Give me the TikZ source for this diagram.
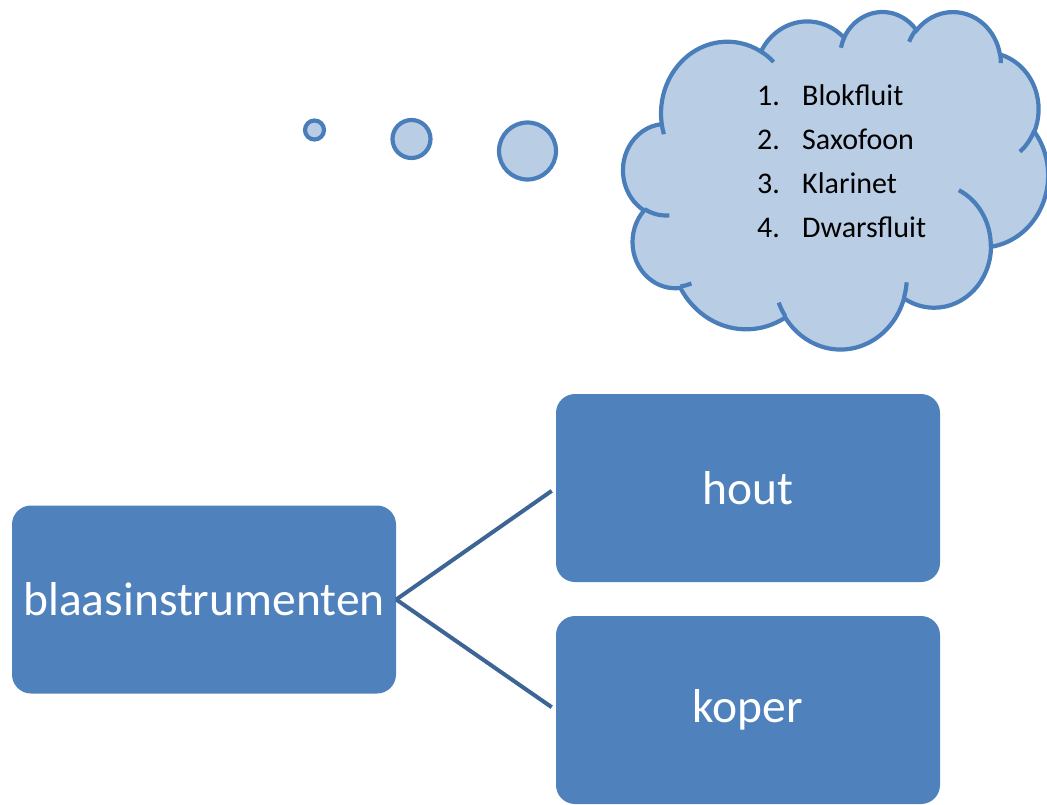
\documentclass[tikz,border=0pt]{standalone}
\usepackage{fontspec}
\setmainfont{Carlito}
\definecolor{boxblue}{RGB}{79,129,189}
\definecolor{cloudfill}{RGB}{185,205,229}
\definecolor{cloudline}{RGB}{74,126,187}
\definecolor{linkblue}{RGB}{60,100,148}
\tikzstyle{boxnode}=[rectangle,rounded corners=19pt,minimum width=384pt,
minimum height=188pt,text centered,fill=boxblue,text=white,font=\fontsize{47.5}{54}\selectfont]
\tikzstyle{itemtext}=[inner sep=0pt,anchor=base west,text=black,font=\fontsize{30}{36}\selectfont]
\tikzstyle{puff}=[line width=4.2pt,draw=cloudline,fill=cloudfill]
\tikzstyle{puffline}=[line width=4.2pt,draw=cloudline]
\tikzstyle{link}=[line width=4pt,draw=linkblue,shorten >=5pt]
% elliptic arc given by radii, start angle and sweep as seen on screen
\tikzset{ooarc/.style n args={4}{insert path={arc[x radius=#1,y radius=#2,
  start angle={atan2((#1)*sin(#3),(#2)*cos(#3))},
  delta angle={mod(atan2((#1)*sin(#3+#4),(#2)*cos(#3+#4))-atan2((#1)*sin(#3),(#2)*cos(#3))+720,360)}]}}}
\begin{document}
\begin{tikzpicture}[x=1pt,y=-1pt,node distance=222pt]
\useasboundingbox (0,0) rectangle (1047,804);

% bubbles
\draw[puff] (314.5,130) circle[radius=9.5pt];
\draw[puff] (411.5,139) circle[radius=19pt];
\draw[puff] (527.5,151) circle[radius=28.5pt];

% cloud
\begin{scope}[shift={(623.3,10.9)},xscale=0.983,yscale=0.781]
\draw[puff] (39,143.7) [ooarc={67.53}{91.90}{-190.4875}{123.7805}]
  [ooarc={53.33}{72.67}{-144.1024}{89.9452}]
  [ooarc={43.65}{59.45}{-145.8079}{99.7230}]
  [ooarc={48.57}{65.95}{-130.9861}{117.2417}]
  [ooarc={53.33}{72.73}{-78.7089}{109.0269}]
  [ooarc={67.75}{92.20}{-46.2673}{130.2690}]
  [ooarc={57.85}{78.67}{0.6250}{114.0333}]
  [ooarc={67.52}{92.15}{22.4516}{115.1726}]
  [ooarc={77.20}{105.43}{66.2426}{75.7110}]
  [ooarc={43.60}{59.18}{-274.9421}{146.7356}]
  [ooarc={43.45}{59.45}{-246.8285}{152.5189}] -- cycle;
\draw[puffline] (46.93,261.77) [ooarc={43.45}{59.45}{86.742}{26.4295}]
  (69.28,348.99) [ooarc={43.60}{59.18}{73.6105}{11.4475}]
  (164.78,390.90) [ooarc={67.52}{92.15}{137.6242}{14.0811}]
  (288.27,347.51) [ooarc={67.52}{92.15}{6.4533}{15.9984}]
  (341.29,229.54) [ooarc={57.85}{78.67}{-70.2924}{70.9174}]
  (417.98,153.54) [ooarc={53.33}{72.73}{30.3180}{27.7515}]
  (383.24,54.26) [ooarc={48.57}{65.95}{-13.7443}{14.8589}]
  (290.78,39.52) [ooarc={48.57}{65.95}{-149.1815}{18.1954}]
  (221.41,47.20) [ooarc={43.65}{59.45}{-163.4943}{17.6864}]
  (140.00,51.92) [ooarc={67.53}{91.90}{-66.7070}{12.3194}]
  (41.27,157.89) [ooarc={67.53}{91.90}{157.6544}{11.8582}];
\end{scope}

\node (num1) [itemtext] at (757,105) {1.};
\node (item1) [itemtext] at (802,105) {Blokfluit};
\node (num2) [itemtext] at (757,149) {2.};
\node (item2) [itemtext] at (802,149) {Saxofoon};
\node (num3) [itemtext] at (757,193) {3.};
\node (item3) [itemtext] at (802,193) {Klarinet};
\node (num4) [itemtext] at (757,237) {4.};
\node (item4) [itemtext] at (802,237) {Dwarsfluit};

% tree
\node (blaas) [boxnode] at (204,599.5) {blaasinstrumenten};
\node (hout) [boxnode] at (748,488) {hout};
\node (koper) [boxnode,below of=hout] {koper};

\draw [link] (blaas.east) -- (hout.west);
\draw [link] (blaas.east) -- (koper.west);

\end{tikzpicture}
\end{document}
